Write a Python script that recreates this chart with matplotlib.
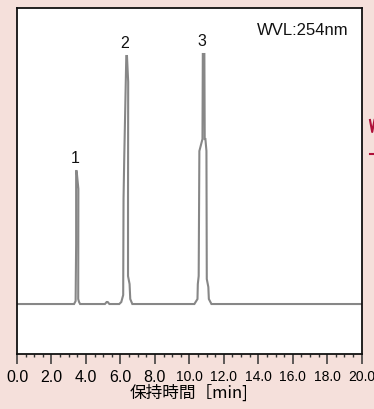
import matplotlib.pyplot as plt
from matplotlib.lines import Line2D
from matplotlib.ticker import MultipleLocator

plt.rcParams['font.family'] = ['Liberation Sans', 'Noto Sans CJK JP', 'DejaVu Sans']

# chromatogram trace: retention time [min] and detector signal (baseline = 0),
# listed in drawing order
rt = [0.0, 3.31, 3.40, 3.43, 3.43, 3.46, 3.56, 3.55, 3.60, 3.66,
      5.10, 5.20, 5.26, 5.36,
      5.93, 6.05, 6.16, 6.18, 6.22, 6.34, 6.38, 6.45, 6.44, 6.44, 6.53, 6.57, 6.69,
      10.29, 10.47, 10.49, 10.54, 10.58, 10.76, 10.78, 10.87, 10.89, 10.93, 10.99, 11.01,
      11.10, 11.13, 11.28, 20.0]
signal = [0, 0, 3, 60, 133, 133, 115, 5, 2, 0,
          0, 2, 2, 0,
          0, 2, 9, 105, 145, 248, 248, 222, 105, 28, 20, 5, 0,
          0, 5, 20, 28, 153, 165, 250, 250, 165, 165, 153, 25,
          17, 5, 0, 0]

peak_labels = ['1', '2', '3']
peak_rt = [3.45, 6.35, 10.82]
peak_top = [133, 248, 250]

tick_values = [0, 2, 4, 6, 8, 10, 12, 14, 16, 18, 20]

fig = plt.figure(figsize=(3.74, 4.10), dpi=100, facecolor='#f5e0db')
ax = fig.add_axes([0.0455, 0.1341, 0.9217, 0.8439])
ax.set_facecolor('white')

ax.plot(rt, signal, color='#878787', lw=1.5, solid_joinstyle='miter')

for lab, x, y in zip(peak_labels, peak_rt, peak_top):
    ax.text(x - 0.1, y + 6, lab, ha='center', va='bottom', fontsize=11.5, color='#111111')

ax.text(0.962, 0.96, 'WVL:254nm', transform=ax.transAxes, ha='right', va='top',
        fontsize=12, color='#111111')

ax.set_xlim(0, 20)
ax.set_ylim(-50, 296)
ax.set_yticks([])
ax.xaxis.set_minor_locator(MultipleLocator(0.5))
ax.tick_params(axis='x', which='major', length=7.5, width=1.1, color='#333333',
               labelsize=11.5, pad=3)
ax.tick_params(axis='x', which='minor', length=2.5, width=1.0, color='#333333')
ax.set_xticks(tick_values)
ax.set_xticklabels([f'{v:.1f}' for v in tick_values])
for lbl, v in zip(ax.get_xticklabels(), tick_values):
    if v >= 10:
        lbl.set_fontsize(10)

for sp in ax.spines.values():
    sp.set_linewidth(1.3)
    sp.set_color('#111111')

ax.set_xlabel('保持時間［min]', fontsize=12, labelpad=0,
              family=['Noto Sans CJK JP', 'DejaVu Sans'])

# fragment of the neighbouring figure at the right edge
W, H = 374, 410
for xs, ys in [([370, 372.2, 374.5], [121, 133, 121]), ([369.5, 374], [155, 155])]:
    fig.add_artist(Line2D([x / W for x in xs], [1 - y / H for y in ys],
                          transform=fig.transFigure, color='#b0103a', lw=1.5))

fig.savefig('out.png', dpi=100, facecolor=fig.get_facecolor())
